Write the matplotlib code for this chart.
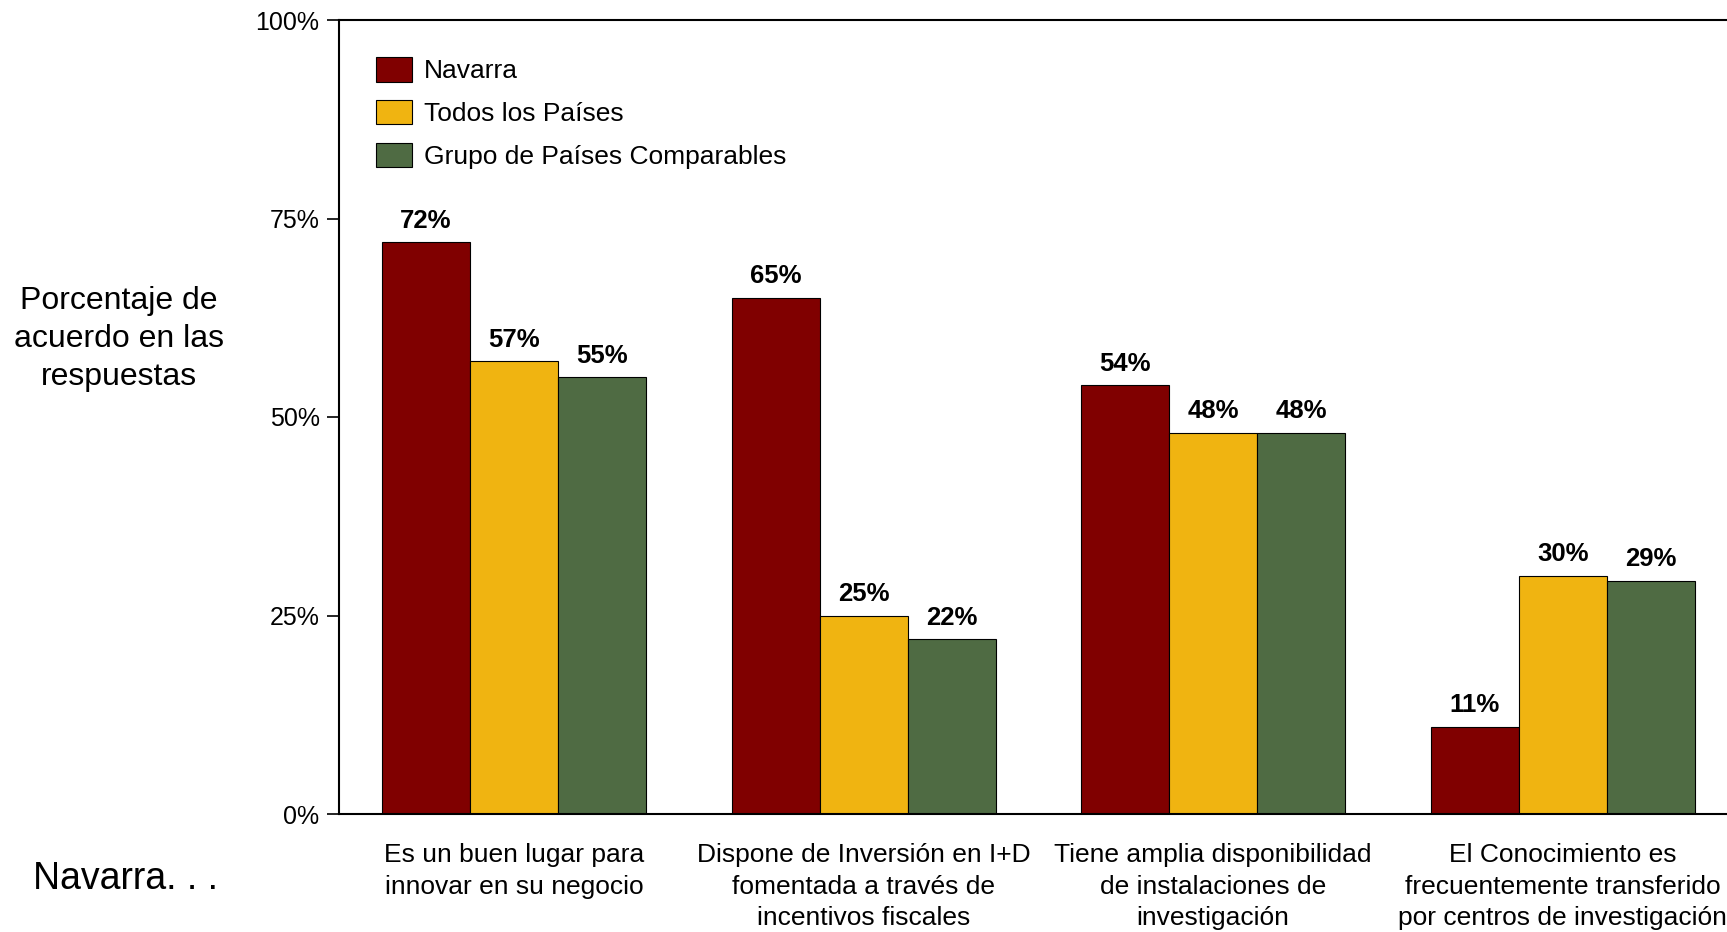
import matplotlib.pyplot as plt
import numpy as np

plt.rcParams['font.family'] = ['Liberation Sans', 'DejaVu Sans']

categories = ['Es un buen lugar para\ninnovar en su negocio',
              'Dispone de Inversión en I+D\nfomentada a través de\nincentivos fiscales',
              'Tiene amplia disponibilidad\nde instalaciones de\ninvestigación',
              'El Conocimiento es\nfrecuentemente transferido\npor centros de investigación']
series_names = ['Navarra', 'Todos los Países', 'Grupo de Países Comparables']
navarra = [72, 65, 54, 11]
todos = [57, 25, 48, 30]
comparables = [55, 22, 48, 29.4]
yticks = [0, 25, 50, 75, 100]
ytick_labels = ['0%', '25%', '50%', '75%', '100%']

colors = ['#800000', '#F0B411', '#4F6B43']

fig = plt.figure(figsize=(17.27, 9.32), dpi=100)
ax = fig.add_axes([339/1727, 1 - 814/932, 1 - 339/1727, (814 - 20)/932])

x = np.arange(len(categories))
w = 0.252
for i, (name, vals) in enumerate(zip(series_names, [navarra, todos, comparables])):
    bars = ax.bar(x + (i - 1) * w, vals, w, color=colors[i], edgecolor='black',
                  linewidth=0.8, label=name)
    for b, v in zip(bars, vals):
        ax.text(b.get_x() + b.get_width() / 2, v + 1.2, f'{v:.0f}%',
                ha='center', va='bottom', fontsize=18.5, fontweight='bold')

ax.set_xlim(-0.501, 3.470)
ax.set_ylim(0, 100)
ax.set_yticks(yticks)
ax.set_yticklabels(ytick_labels, fontsize=18)
ax.tick_params(axis='y', length=9, width=1.2, pad=5)
ax.set_xticks(x)
ax.set_xticklabels(categories, fontsize=19, linespacing=1.4)
ax.tick_params(axis='x', length=0, pad=21)
ax.spines['right'].set_visible(False)
for s in ['left', 'top', 'bottom']:
    ax.spines[s].set_linewidth(1.5)

ax.legend(loc='upper left', frameon=False, fontsize=19, handlelength=1.37,
          handleheight=1.04, handletextpad=0.46, labelspacing=0.63,
          borderpad=0, borderaxespad=0, bbox_to_anchor=(0.0264, 0.953))

fig.text(119/1727, 1 - 339/932, 'Porcentaje de\nacuerdo en las\nrespuestas',
         ha='center', va='center', fontsize=23, linespacing=1.35)
fig.text(33/1727, 1 - 879/932, 'Navarra. . .', ha='left', va='center', fontsize=27)

fig.savefig('out.png', dpi=100)
